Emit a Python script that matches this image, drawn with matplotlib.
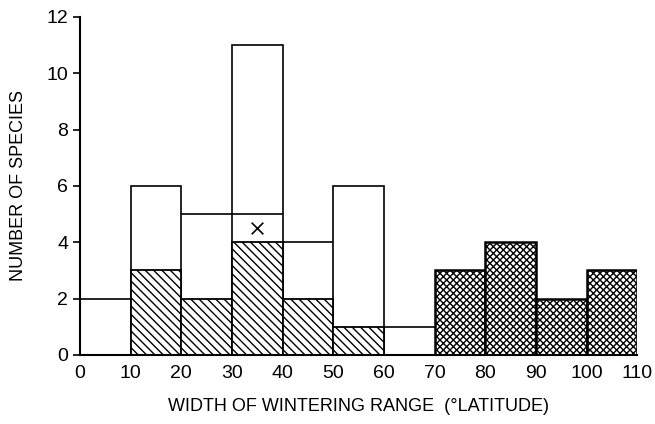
import matplotlib.pyplot as plt
import numpy as np

plt.rcParams['font.family'] = ['Liberation Sans', 'DejaVu Sans']
plt.rcParams['hatch.linewidth'] = 1.0

# bin left edges and heights
open_left = [10, 30, 50]
open_count = [6, 11, 6]

hatch_left = [10, 20, 30, 40, 50]
hatch_count = [3, 2, 4, 2, 1]

cross_left = [70, 80, 90, 100]
cross_count = [3, 4, 2, 3]

# horizontal level segments (start, end, level)
seg_start = [0, 20, 40, 60]
seg_end = [10, 40, 50, 70]
seg_level = [2, 5, 4, 1]

mark_x = [35]
mark_y = [4.5]

width = 10

fig = plt.figure(figsize=(6.55, 4.24), dpi=100)
ax = fig.add_axes([0.122, 0.163, 0.851, 0.797])

ax.bar(open_left, open_count, width=width, align='edge', facecolor='white',
       edgecolor='black', linewidth=1.2)
ax.bar(hatch_left, hatch_count, width=width, align='edge', facecolor='white',
       edgecolor='black', linewidth=1.3, hatch='\\\\\\\\')
ax.bar(cross_left, cross_count, width=width, align='edge', facecolor='white',
       edgecolor='black', linewidth=1.8, hatch='xxxxx')
ax.hlines(seg_level, seg_start, seg_end, colors='black', linewidth=1.2)
ax.scatter(mark_x, mark_y, marker='x', s=70, color='black', linewidths=1.2, zorder=5)

ax.set_xlim(0, 110)
ax.set_ylim(0, 12)
ax.set_xticks(np.arange(0, 111, 10))
ax.set_yticks(np.arange(0, 13, 2))
ax.spines['top'].set_visible(False)
ax.spines['right'].set_visible(False)
ax.spines['left'].set_linewidth(1.5)
ax.spines['bottom'].set_linewidth(1.5)
ax.tick_params(axis='both', labelsize=14, length=5, width=1.2, direction='out')
ax.tick_params(axis='x', length=0, pad=7)

ax.set_xlabel('WIDTH OF WINTERING RANGE  (°LATITUDE)', fontsize=13, labelpad=12)
ax.set_ylabel('NUMBER OF SPECIES', fontsize=13, labelpad=14)

fig.savefig('out.png', dpi=100)
